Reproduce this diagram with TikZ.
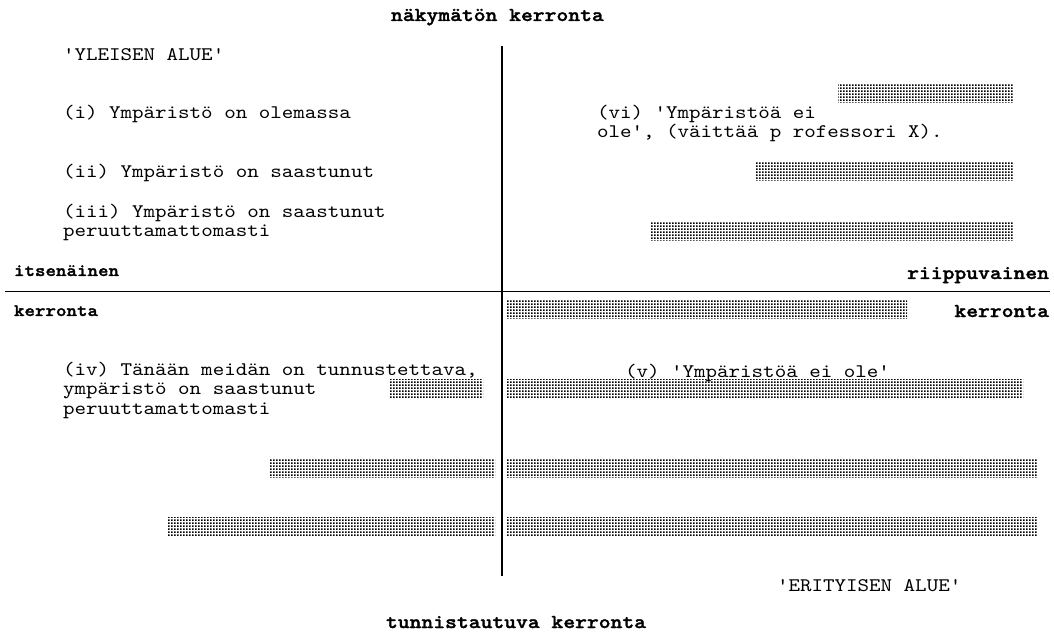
\documentclass[tikz,border=0pt]{standalone}
\usepackage{fontspec}
\newfontfamily\bodyfont{lmmono10-regular.otf}[FakeStretch=1.143]
\newfontfamily\labelfont{lmmonolt10-bold.otf}[FakeStretch=1.143,FakeBold=1.5]
\usetikzlibrary{patterns.meta}
\tikzdeclarepattern{
  name=halftone,
  type=uncolored,
  bounding box={(0bp,0bp) and (3bp,3bp)},
  tile size={(3bp,3bp)},
  code={\fill (0bp,0bp) rectangle (2bp,2bp);}
}
\begin{document}
\begin{tikzpicture}[x=1bp,y=-1bp,
  body/.style={inner sep=0pt,outer sep=0pt,anchor=base west,align=left,
    font=\bodyfont\fontsize{19.2bp}{19.5bp}\selectfont},
  axis/.style={inner sep=0pt,outer sep=0pt,
    font=\labelfont\fontsize{19.7bp}{20bp}\selectfont},
  sideaxis/.style={inner sep=0pt,outer sep=0pt,anchor=base west,
    font=\labelfont\fontsize{17.5bp}{18bp}\selectfont},
  bar/.style={pattern={halftone},pattern color=black},
  rule/.style={draw=black,line width=1bp}]
\useasboundingbox (0,0) rectangle (1054,635);
% axes
\coordinate (vtop) at (502,46);
\coordinate (vbot) at (502,576);
\coordinate (hleft) at (5,291);
\coordinate (hright) at (1050,291);
\draw[rule,line width=1.5bp] (vtop) -- (vbot);
\draw[rule] (hleft) -- (hright);
% axis labels
\node[axis,anchor=base west] (top) at (391,21) {näkymätön kerronta};
\node[axis,anchor=base west] (bottom) at (386,628) {tunnistautuva kerronta};
\node[sideaxis] (left1) at (14,276) {itsenäinen};
\node[sideaxis] (left2) at (14,316) {kerronta};
\node[axis,anchor=base east] (right1) at (1049,279) {riippuvainen};
\node[axis,anchor=base east] (right2) at (1049,317) {kerronta};
% upper left
\node[body] (yleinen) at (63,61) {'YLEISEN ALUE'};
\node[body] (t1) at (63,119) {(i) Ympäristö on olemassa};
\node[body] (t2) at (63,178) {(ii) Ympäristö on saastunut};
\node[body] (t3) at (63,237) {(iii) Ympäristö on saastunut\\peruuttamattomasti};
% upper right
\node[body] (t6) at (597,138) {(vi) 'Ympäristöä ei\\ole', (väittää p rofessori X).};
% lower left
\node[body] (t4) at (63,414) {(iv) Tänään meidän on tunnustettava,\\ympäristö on saastunut\\peruuttamattomasti};
% lower right
\node[body] (t5) at (625,377) {(v) 'Ympäristöä ei ole'};
\node[body] (erit) at (777,591) {'ERITYISEN ALUE'};
% shaded bars
\path[bar] (838,85) rectangle (1013,103);
\path[bar] (756,163) rectangle (1013,181);
\path[bar] (650,223) rectangle (1013,241);
\path[bar] (506,300) rectangle (907,318);
\path[bar] (506,379) rectangle (1023,398);
\path[bar] (506,458) rectangle (1037,477);
\path[bar] (506,517) rectangle (1037,536);
\path[bar] (390,379) rectangle (483,397);
\path[bar] (270,458) rectangle (495,477);
\path[bar] (167,517) rectangle (495,536);
\end{tikzpicture}
\end{document}
